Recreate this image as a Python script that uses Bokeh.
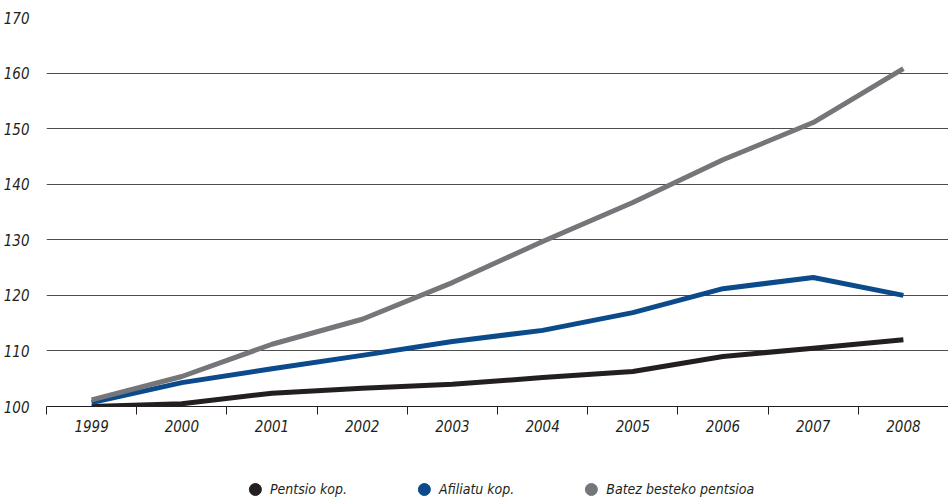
from bokeh.plotting import figure
from bokeh.models import (Legend, LegendItem, FixedTicker, ColumnDataSource, Range1d)
from bokeh.layouts import column
from bokeh.embed import file_html
from bokeh.resources import INLINE

years = ["1999", "2000", "2001", "2002", "2003", "2004", "2005", "2006", "2007", "2008"]
pentsio_kop = [100.0, 100.5, 102.4, 103.3, 104.0, 105.2, 106.3, 109.0, 110.5, 112.0]
afiliatu_kop = [100.7, 104.3, 106.8, 109.2, 111.7, 113.7, 116.9, 121.2, 123.2, 120.0]
batez_besteko = [101.2, 105.4, 111.2, 115.7, 122.3, 129.7, 136.7, 144.4, 151.1, 160.8]
y_ticks = [100, 110, 120, 130, 140, 150, 160, 170]

series = [
    ("Pentsio kop.", pentsio_kop, "#231f20"),
    ("Afiliatu kop.", afiliatu_kop, "#0b4a8b"),
    ("Batez besteko pentsioa", batez_besteko, "#757679"),
]

FONT = "DejaVu Sans Condensed"
TEXT = "#231f20"

p = figure(width=948, height=440, output_backend="svg", toolbar_location=None,
           x_range=Range1d(-0.5, len(years) - 0.5), y_range=Range1d(100, 170),
           min_border_left=40, min_border_right=0, min_border_top=17, min_border_bottom=34)
p.outline_line_color = None
p.background_fill_color = "white"
p.border_fill_color = "white"

xs = list(range(len(years)))
for name, vals, col in series:
    src = ColumnDataSource(dict(x=xs, y=vals))
    p.line("x", "y", source=src, line_color=col, line_width=5, line_join="round")

# x axis
xa = p.xaxis[0]
xa.ticker = FixedTicker(ticks=xs, minor_ticks=[i - 0.5 for i in range(len(years) + 1)])
xa.major_label_overrides = {i: y for i, y in enumerate(years)}
xa.major_tick_out = 0
xa.major_tick_in = 0
xa.minor_tick_out = 8
xa.minor_tick_in = 0
xa.minor_tick_line_color = "#231f20"
xa.axis_line_color = "#231f20"
xa.axis_line_width = 1
xa.major_label_text_font = FONT
xa.major_label_text_font_style = "italic"
xa.major_label_text_font_size = "15px"
xa.major_label_text_color = TEXT
xa.major_label_standoff = 5

# y axis
ya = p.yaxis[0]
ya.ticker = FixedTicker(ticks=y_ticks)
ya.axis_line_color = None
ya.major_tick_line_color = None
ya.minor_tick_line_color = None
ya.major_label_text_font = FONT
ya.major_label_text_font_style = "italic"
ya.major_label_text_font_size = "15px"
ya.major_label_text_color = TEXT
ya.major_label_standoff = 11

p.xgrid.grid_line_color = None
p.ygrid.ticker = FixedTicker(ticks=y_ticks)
p.ygrid.grid_line_color = "#4d4d4d"
p.ygrid.grid_line_width = 1

# legend strip below the chart
lg = figure(width=948, height=64, output_backend="svg", toolbar_location=None,
            x_axis_type=None, y_axis_type=None,
            x_range=Range1d(0, 1), y_range=Range1d(0, 1),
            min_border_left=40, min_border_right=0, min_border_top=0, min_border_bottom=0)
lg.outline_line_color = None
lg.xgrid.visible = False
lg.ygrid.visible = False
legend_items = []
for name, vals, col in series:
    r = lg.scatter(x=[float("nan")], y=[float("nan")], size=13, fill_color=col, line_color=col)
    legend_items.append(LegendItem(label=name, renderers=[r]))

legend = Legend(items=legend_items, orientation="horizontal", location="bottom_center",
                border_line_color=None, background_fill_alpha=0, padding=0, margin=0,
                spacing=62, label_standoff=0, glyph_width=30, glyph_height=30,
                label_text_font=FONT, label_text_font_style="italic",
                label_text_font_size="14px", label_text_color=TEXT)
lg.add_layout(legend, "center")

layout = column(p, lg, spacing=0)
open("out.html", "w").write(file_html(layout, INLINE))
